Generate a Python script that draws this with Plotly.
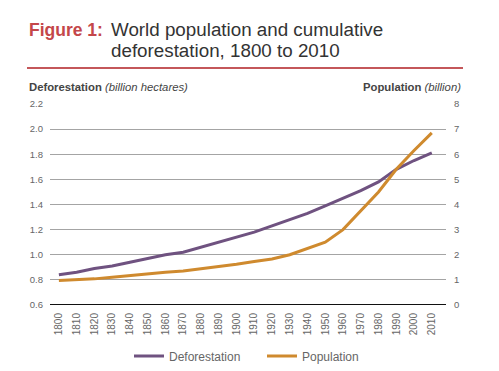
import plotly.graph_objects as go

years = list(range(1800, 2011, 10))
deforestation = [0.84, 0.86, 0.89, 0.91, 0.94, 0.97, 1.00, 1.02, 1.06, 1.10, 1.14,
                 1.18, 1.23, 1.28, 1.33, 1.39, 1.45, 1.51, 1.58, 1.68, 1.75, 1.81]
population = [0.98, 1.00, 1.04, 1.10, 1.17, 1.25, 1.30, 1.35, 1.43, 1.52, 1.62,
              1.73, 1.83, 2.00, 2.25, 2.50, 3.00, 3.75, 4.50, 5.40, 6.15, 6.85]
left_ticks = [0.6, 0.8, 1.0, 1.2, 1.4, 1.6, 1.8, 2.0, 2.2]
right_ticks = [0, 1, 2, 3, 4, 5, 6, 7, 8]

W, H = 499, 371
L, R, T, B = 50, 53, 104, 66
pw, ph = W - L - R, H - T - B

def px(x):
    return (x - L) / pw

def py(y):
    return (H - B - y) / ph

purple = "#6f5280"
orange = "#cf8a2e"
grey_txt = "#666666"
FONT = "Liberation Sans, Arial"

fig = go.Figure()
fig.add_trace(go.Scatter(x=years, y=deforestation, name="Deforestation", mode="lines",
                         line=dict(color=purple, width=3), yaxis="y"))
fig.add_trace(go.Scatter(x=years, y=population, name="Population", mode="lines",
                         line=dict(color=orange, width=3), yaxis="y2"))

fig.update_layout(
    width=W, height=H,
    margin=dict(l=L, r=R, t=T, b=B, autoexpand=False),
    plot_bgcolor="white", paper_bgcolor="white",
    font=dict(family=FONT, size=9, color=grey_txt),
    xaxis=dict(range=[1795, 2018], tickvals=years, ticktext=[str(y) for y in years],
               tickangle=-90, showgrid=False, zeroline=False, showline=False,
               automargin=False, ticklabelstandoff=5,
               tickfont=dict(size=10, color=grey_txt), ticks=""),
    yaxis=dict(range=[0.6, 2.2], tickvals=left_ticks,
               ticktext=[f"{v:.1f}" for v in left_ticks],
               showgrid=True, gridcolor="#a4a4a4", gridwidth=1.3, zeroline=False,
               showline=False, automargin=False, ticklabelstandoff=6,
               tickfont=dict(size=9.5, color=grey_txt), ticks=""),
    yaxis2=dict(range=[0, 8], tickvals=right_ticks, overlaying="y", side="right",
                showgrid=False, zeroline=False, showline=False,
                automargin=False, ticklabelstandoff=7,
                tickfont=dict(size=9.5, color=grey_txt), ticks=""),
    legend=dict(orientation="h", x=px(262), xanchor="center",
                yref="container", y=1 - 356 / H, yanchor="middle",
                entrywidth=88, entrywidthmode="pixels",
                font=dict(size=12, color=grey_txt), bgcolor="rgba(0,0,0,0)"),
    showlegend=True,
)

# Axis baseline
fig.add_shape(type="line", xref="paper", yref="y", x0=0, x1=1, y0=0.6, y1=0.6,
              line=dict(color="#111111", width=2))

# Title
fig.add_annotation(xref="paper", yref="paper", x=px(27), y=py(30), xanchor="left", yanchor="middle",
                   text="<b>Figure 1:</b>", showarrow=False,
                   font=dict(size=17.5, color="#c4474a", family=FONT))
fig.add_annotation(xref="paper", yref="paper", x=px(109), y=py(30), xanchor="left", yanchor="middle",
                   text="World population and cumulative", showarrow=False,
                   font=dict(size=18.8, color="#333333", family=FONT))
fig.add_annotation(xref="paper", yref="paper", x=px(109), y=py(51), xanchor="left", yanchor="middle",
                   text="deforestation, 1800 to 2010", showarrow=False,
                   font=dict(size=18.8, color="#333333", family=FONT))
fig.add_shape(type="line", xref="paper", yref="paper", x0=px(27), x1=px(463), y0=py(68), y1=py(68),
              line=dict(color="#c4575a", width=2))

# Axis titles
fig.add_annotation(xref="paper", yref="paper", x=px(27), y=py(87), xanchor="left", yanchor="middle",
                   text="<b>Deforestation</b> <i>(billion hectares)</i>", showarrow=False,
                   font=dict(size=11.3, color="#444444"))
fig.add_annotation(xref="paper", yref="paper", x=px(463), y=py(87), xanchor="right", yanchor="middle",
                   text="<b>Population</b> <i>(billion)</i>", showarrow=False,
                   font=dict(size=11.3, color="#444444"))

fig.write_html("out.html", config={"displayModeBar": False},
               post_script="document.body.style.margin='0';")
